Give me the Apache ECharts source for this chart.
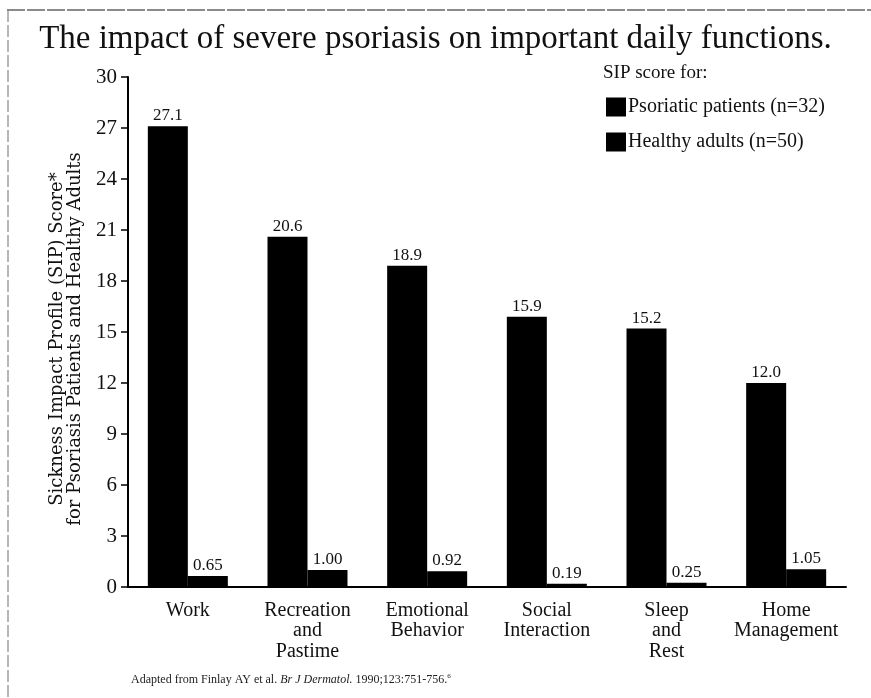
<!DOCTYPE html>
<html>
<head>
<meta charset="utf-8">
<script src="https://cdn.jsdelivr.net/npm/echarts@6/dist/echarts.min.js"></script>
<style>
html,body{margin:0;padding:0;background:#fff;}
#chart{width:871px;height:698px;}
</style>
</head>
<body>
<div id="chart"></div>
<script>
var categories = ['Work', 'Recreation\nand\nPastime', 'Emotional\nBehavior', 'Social\nInteraction', 'Sleep\nand\nRest', 'Home\nManagement'];
var psoriaticValues = [27.1, 20.6, 18.9, 15.9, 15.2, 12.0];
var psoriaticLabels = ['27.1', '20.6', '18.9', '15.9', '15.2', '12.0'];
var healthyValues = [0.65, 1.00, 0.92, 0.19, 0.25, 1.05];
var healthyLabels = ['0.65', '1.00', '0.92', '0.19', '0.25', '1.05'];
var seriesNames = ['Psoriatic patients (n=32)', 'Healthy adults (n=50)'];
var yTicks = [0, 3, 6, 9, 12, 15, 18, 21, 24, 27, 30];

var FONT = '"Liberation Serif", "DejaVu Serif", serif';
var WIDE = '"DejaVu Serif", "Liberation Serif", serif';
var chart = echarts.init(document.getElementById('chart'));

function mk(vals, labs) {
  return vals.map(function (v, i) { return { value: v, labelText: labs[i] }; });
}

chart.setOption({
  backgroundColor: '#fff',
  animation: false,
  title: {
    text: 'The impact of severe psoriasis on important daily functions.',
    left: 'center',
    top: 18,
    textStyle: { fontFamily: FONT, fontSize: 33, fontWeight: 'normal', color: '#111' }
  },
  legend: {
    orient: 'vertical',
    left: 601,
    top: 92,
    padding: 5,
    itemWidth: 20,
    itemHeight: 19,
    itemGap: 15,
    icon: 'rect',
    data: seriesNames,
    textStyle: { fontFamily: FONT, fontSize: 20, color: '#111', padding: [0, 0, 0, -3] }
  },
  grid: { left: 128, right: 25, top: 77, bottom: 111, containLabel: false },
  xAxis: {
    type: 'category',
    data: categories,
    axisLine: { lineStyle: { color: '#000', width: 2 } },
    axisTick: { show: false },
    axisLabel: {
      interval: 0,
      fontFamily: FONT, fontSize: 20, color: '#111', lineHeight: 20.5, margin: 13
    }
  },
  yAxis: {
    type: 'value',
    min: 0, max: 30, interval: 3,
    name: 'Sickness Impact Profile (SIP) Score*\nfor Psoriasis Patients and Healthy Adults',
    nameLocation: 'middle',
    nameGap: 44,
    nameRotate: 90,
    nameTextStyle: { fontFamily: WIDE, fontSize: 18, color: '#111', lineHeight: 18, padding: [0, 14, 0, 0] },
    splitLine: { show: false },
    axisLine: { show: true, lineStyle: { color: '#000', width: 2 } },
    axisTick: { show: true, inside: false, length: 7, lineStyle: { color: '#000', width: 1.5 } },
    axisLabel: {
      fontFamily: FONT, fontSize: 21, color: '#111', margin: 11,
      formatter: function (v) { return yTicks.indexOf(v) >= 0 ? String(v) : ''; }
    }
  },
  graphic: [
    {
      type: 'text', left: 603, top: 64,
      style: { text: 'SIP score for:', font: '19px ' + FONT, fill: '#111' }
    },
    {
      type: 'text', left: 131, top: 673,
      style: {
        text: '{n|Adapted from Finlay AY et al. }{i|Br J Dermatol.}{n| 1990;123:751-756.}{s|6}',
        rich: {
          n: { fontFamily: FONT, fontSize: 12, fill: '#222' },
          i: { fontFamily: FONT, fontSize: 12, fontStyle: 'italic', fill: '#222' },
          s: { fontFamily: FONT, fontSize: 7, fill: '#222', verticalAlign: 'top', padding: [0, 0, 6, 0] }
        }
      }
    },
    {
      type: 'line', shape: { x1: 7, y1: 10, x2: 871, y2: 10 },
      style: { stroke: '#666', lineWidth: 1.5, lineDash: [18, 2] }
    },
    {
      type: 'line', shape: { x1: 8, y1: 10, x2: 8, y2: 698 },
      style: { stroke: '#888', lineWidth: 1.2, lineDash: [12, 3] }
    }
  ],
  series: [
    {
      name: seriesNames[0],
      type: 'bar',
      data: mk(psoriaticValues, psoriaticLabels),
      barWidth: 40,
      barGap: '0%',
      barCategoryGap: '33%',
      itemStyle: { color: '#000' },
      label: {
        show: true, position: 'top', distance: 2,
        fontFamily: FONT, fontSize: 17, color: '#111',
        formatter: function (p) { return p.data.labelText; }
      }
    },
    {
      name: seriesNames[1],
      type: 'bar',
      data: mk(healthyValues, healthyLabels),
      barWidth: 40,
      itemStyle: { color: '#000' },
      label: {
        show: true, position: 'top', distance: 2,
        fontFamily: FONT, fontSize: 17, color: '#111',
        formatter: function (p) { return p.data.labelText; }
      }
    }
  ]
});
</script>
</body>
</html>
